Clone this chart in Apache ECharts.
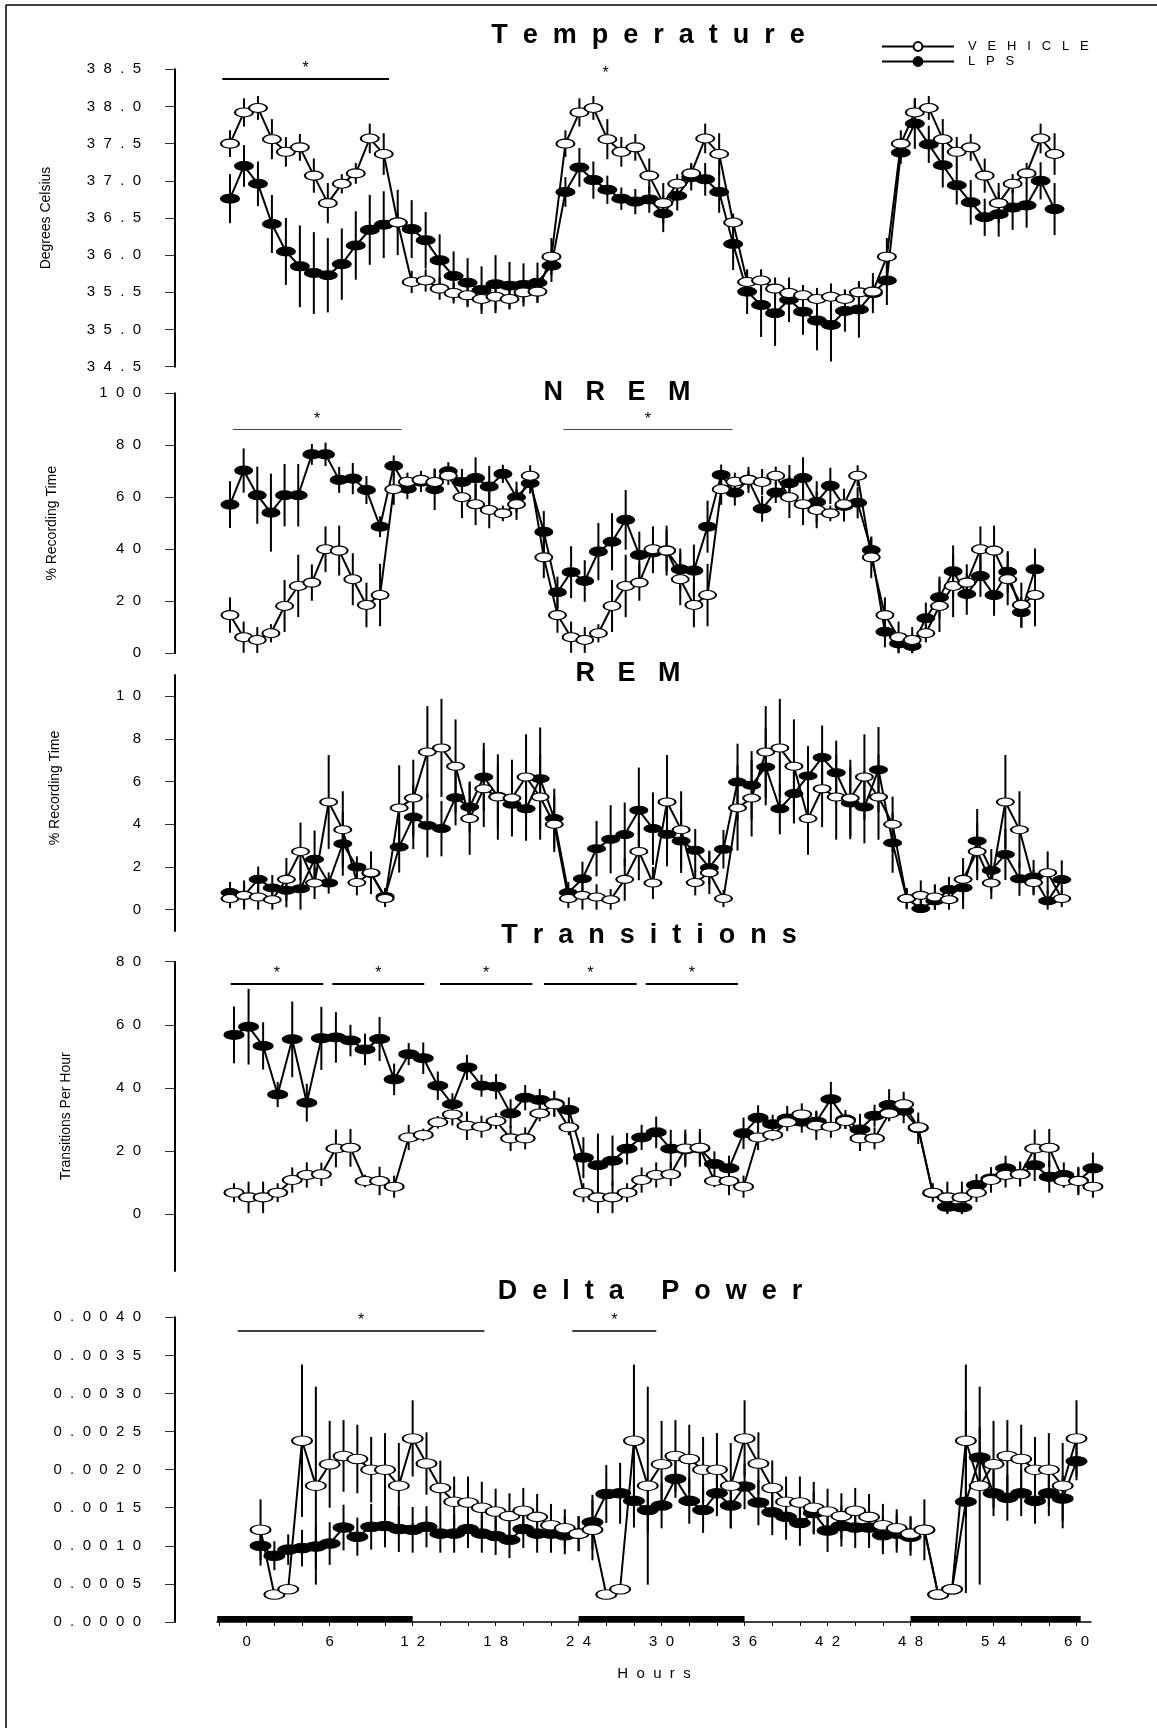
<!DOCTYPE html>
<html><head><meta charset="utf-8">
<script src="https://cdn.jsdelivr.net/npm/echarts@6/dist/echarts.min.js"></script>
<style>html,body{margin:0;padding:0;background:#fff}#c{width:1157px;height:1728px}</style>
</head><body><div id="c"></div>
<script>
const hours = [1,2,3,4,5,6,7,8,9,10,11,12,13,14,15,16,17,18,19,20,21,22,23,24,25,26,27,28,29,30,31,32,33,34,35,36,37,38,39,40,41,42,43,44,45,46,47,48,49,50,51,52,53,54,55,56,57,58,59,60];

// Temperature (deg C)
const tempVeh = [37.50,37.92,37.98,37.56,37.39,37.45,37.07,36.70,36.96,37.10,37.57,37.36,36.44,35.64,35.66,35.55,35.49,35.46,35.41,35.44,35.41,35.50,35.51,35.98,
37.50,37.92,37.98,37.56,37.39,37.45,37.07,36.70,36.96,37.10,37.57,37.36,36.44,35.64,35.66,35.55,35.49,35.46,35.41,35.44,35.41,35.50,35.51,35.98,
37.50,37.92,37.98,37.56,37.39,37.45,37.07,36.70,36.96,37.10,37.57,37.36];
const tempVehErr = [0.18,0.19,0.16,0.27,0.20,0.18,0.23,0.27,0.13,0.14,0.20,0.28,0.12,0.15,0.15,0.15,0.14,0.14,0.15,0.18,0.13,0.14,0.15,0.25,
0.18,0.19,0.16,0.27,0.20,0.18,0.23,0.27,0.13,0.14,0.20,0.28,0.12,0.15,0.15,0.15,0.14,0.14,0.15,0.18,0.13,0.14,0.15,0.25,
0.18,0.19,0.16,0.27,0.20,0.18,0.23,0.27,0.13,0.14,0.20,0.28];
const tempLps = [36.76,37.20,36.96,36.42,36.05,35.85,35.76,35.73,35.88,36.13,36.34,36.41,36.44,36.35,36.20,35.93,35.72,35.63,35.53,35.61,35.59,35.60,35.63,35.86,
36.85,37.18,37.01,36.88,36.76,36.72,36.75,36.56,36.80,37.05,37.02,36.85,36.15,35.51,35.33,35.22,35.40,35.24,35.12,35.06,35.25,35.27,35.49,35.66,
37.38,37.77,37.49,37.21,36.94,36.71,36.51,36.55,36.64,36.67,37.00,36.62];
const tempLpsErr = [0.33,0.28,0.30,0.39,0.45,0.55,0.55,0.50,0.48,0.46,0.47,0.45,0.44,0.39,0.38,0.35,0.33,0.33,0.32,0.39,0.32,0.29,0.27,0.22,
0.20,0.26,0.25,0.19,0.15,0.17,0.18,0.25,0.20,0.18,0.22,0.28,0.35,0.30,0.43,0.44,0.30,0.31,0.40,0.49,0.28,0.38,0.27,0.33,
0.15,0.34,0.25,0.30,0.26,0.30,0.25,0.30,0.30,0.30,0.25,0.35];

// NREM (% recording time)
const nremVeh = [14.7,6.2,5.1,7.7,18.2,25.9,27.2,40.0,39.5,28.5,18.6,22.4,63.1,66.0,66.7,65.9,68.3,60.0,57.3,55.1,53.8,57.3,68.3,36.9,
14.7,6.2,5.1,7.7,18.2,25.9,27.2,40.0,39.5,28.5,18.6,22.4,63.1,66.0,66.7,65.9,68.3,60.0,57.3,55.1,53.8,57.3,68.3,36.9,
14.7,6.2,5.1,7.7,18.2,25.9,27.2,40.0,39.5,28.5,18.6,22.4];
const nremVehErr = [6.8,6,5,3.5,10,12,7,8.8,9.6,10,8.6,12,6,3.5,3.5,5,3.5,8,8,7,3,6,4,8,
6.8,6,5,3.5,10,12,7,8.8,9.6,10,8.6,12,6,3.5,3.5,5,3.5,8,8,7,3,6,4,8,
6.8,6,5,3.5,10,12,7,8.8,9.6,10,8.6,12];
const nremLps = [57.2,70.3,60.8,54.1,60.8,60.8,76.5,76.5,66.7,67.2,62.8,48.7,72.1,63.3,66.0,63.1,70.0,65.9,67.4,64.1,69.0,60.0,65.4,46.7,
23.5,31.2,27.8,39.1,42.9,51.3,37.8,38.8,39.5,32.3,31.8,48.7,68.6,61.8,66.7,55.6,61.8,65.4,67.4,58.2,64.4,56.7,57.9,39.7,
8.3,3.8,2.8,13.5,21.5,31.5,22.8,29.7,22.4,31.3,15.8,32.3];
const nremLpsErr = [9,8.5,11,15,12,12,4,4.5,5,6,5.4,4,4,4,4,8,3.5,5,8,8,3.5,6,4,8,
6,10,8,11,11,11.5,9,8,8,8,10,10,4,5,5,5,4,7,8,8,7,6,6,5,
6,4,3,6,8,10,8,8,8,8,6,8];

// REM (% recording time)
const remVeh = [0.52,0.67,0.59,0.47,1.42,2.73,1.25,5.05,3.75,1.27,1.73,0.52,4.77,5.23,7.39,7.58,6.72,4.27,5.67,5.28,5.23,6.22,5.28,4.00,
0.52,0.67,0.59,0.47,1.42,2.73,1.25,5.05,3.75,1.27,1.73,0.52,4.77,5.23,7.39,7.58,6.72,4.27,5.67,5.28,5.23,6.22,5.28,4.00,
0.52,0.67,0.59,0.47,1.42,2.73,1.25,5.05,3.75,1.27,1.73,0.52];
const remVehErr = [0.45,0.7,0.6,0.5,1.0,1.35,0.75,2.2,1.8,0.6,1.0,0.4,2.0,1.8,2.15,2.3,2.2,1.7,1.8,2.0,1.8,2.0,2.0,1.3,
0.45,0.7,0.6,0.5,1.0,1.35,0.75,2.2,1.8,0.6,1.0,0.4,2.0,1.8,2.15,2.3,2.2,1.7,1.8,2.0,1.8,2.0,2.0,1.3,
0.45,0.7,0.6,0.5,1.0,1.35,0.75,2.2,1.8,0.6,1.0,0.4];
const remLps = [0.80,0.67,1.42,1.02,0.91,0.98,2.36,1.25,3.09,2.00,1.70,0.62,2.94,4.34,3.95,3.80,5.25,4.81,6.22,5.31,4.94,4.73,6.14,4.27,
0.80,1.45,2.86,3.30,3.52,4.66,3.80,3.53,3.22,2.78,1.97,2.83,5.98,5.83,6.69,4.73,5.44,6.27,7.13,6.42,5.00,4.81,6.56,3.13,
0.52,0.05,0.41,0.94,1.03,3.22,1.84,2.59,1.45,1.53,0.41,1.41];
const remLpsErr = [0.5,0.5,0.6,0.6,0.8,1.3,1.35,0.5,1.5,0.5,0.6,0.4,1.2,1.5,1.5,1.3,1.3,1.2,1.6,1.5,1.4,1.5,2.4,1.4,
0.5,0.8,1.3,1.6,1.5,2.0,1.7,1.5,1.5,1.0,0.8,0.9,1.8,1.6,1.8,1.2,1.4,1.4,1.5,1.5,1.7,1.7,2.0,1.4,
0.5,0.7,0.7,0.6,1.0,1.5,1.0,1.2,0.8,0.8,0.5,0.9];

// Transitions per hour
const transVeh = [6.8,5.3,5.3,6.8,10.8,12.4,12.6,20.8,21.0,10.5,10.5,8.7,24.3,25.1,29.1,31.6,28.0,27.7,29.5,24.0,24.0,31.9,34.8,27.5,
6.8,5.3,5.3,6.8,10.8,12.4,12.6,20.8,21.0,10.5,10.5,8.7,24.3,25.1,29.1,31.6,28.0,27.7,29.5,24.0,24.0,31.9,34.8,27.5,
6.8,5.3,5.3,6.8,10.8,12.4,12.6,20.8,21.0,10.5,10.5,8.7];
const transVehErr = [3,5,5,3,4,4,3.7,6,6,2,4.5,3.5,4,2,2,3.5,4.5,3.5,2.5,4,3.5,2.5,4,2.5,
3,5,5,3,4,4,3.7,6,6,2,4.5,3.5,4,2,2,3.5,4.5,3.5,2.5,4,3.5,2.5,4,2.5,
3,5,5,3,4,4,3.7,6,6,2,4.5,3.5];
const transLps = [56.8,59.4,53.3,37.9,55.4,35.3,55.7,56.0,55.0,52.2,55.5,42.7,50.7,49.4,40.7,34.8,46.5,40.7,40.4,31.9,36.9,36.2,35.1,33.0,
17.9,15.5,16.9,20.7,24.3,25.9,20.7,20.5,20.8,15.9,14.5,25.6,30.5,28.5,30.3,29.3,29.3,36.4,30.0,26.8,31.2,34.6,32.8,27.2,
6.6,2.3,2.1,9.2,11.3,14.5,12.7,15.5,11.8,12.4,10.6,14.5];
const transLpsErr = [9,12,7.5,4,12,6,10,8,5,5,7,5,3.5,5,4.5,3.5,4,3.5,4,4.5,4,3.5,4,4,
6.5,10,8,5,4,5,6,5,5,4,4,5,4,3,4,3.5,3.5,5.5,3,5,3.5,5,4,5,
2,3,3,3.5,3.5,4,4,5,5,4,4,5];

// Delta power
const deltaVeh = [0.00121,0.00036,0.00043,0.00238,0.00179,0.00207,0.00218,0.00214,0.00200,0.00200,0.00179,0.00241,0.00208,0.00176,0.00158,0.00157,0.00150,0.00145,0.00139,0.00146,0.00138,0.00127,0.00123,0.00116,
0.00121,0.00036,0.00043,0.00238,0.00179,0.00207,0.00218,0.00214,0.00200,0.00200,0.00179,0.00241,0.00208,0.00176,0.00158,0.00157,0.00150,0.00145,0.00139,0.00146,0.00138,0.00127,0.00123,0.00116,
0.00121,0.00036,0.00043,0.00238,0.00179,0.00207,0.00218,0.00214,0.00200,0.00200,0.00179,0.00241];
const deltaVehErr = [0.0004,0,0,0.001,0.0013,0.00057,0.00047,0.00045,0.00043,0.00048,0.00056,0.0005,0.00041,0.00036,0.00033,0.00034,0.00034,0.0003,0.0003,0.0003,0.0003,0.00028,0.00025,0.00023,
0.0004,0,0,0.001,0.0013,0.00057,0.00047,0.00045,0.00043,0.00048,0.00056,0.0005,0.00041,0.00036,0.00033,0.00034,0.00034,0.0003,0.0003,0.0003,0.0003,0.00028,0.00025,0.00023,
0.0004,0,0,0.001,0.0013,0.00057,0.00047,0.00045,0.00043,0.00048,0.00056,0.0005];
const deltaLps = [0.00100,0.00087,0.00095,0.00097,0.00099,0.00103,0.00124,0.00112,0.00125,0.00126,0.00122,0.00121,0.00125,0.00116,0.00116,0.00122,0.00116,0.00113,0.00108,0.00122,0.00116,0.00116,0.00114,0.00116,
0.00131,0.00168,0.00169,0.00159,0.00147,0.00153,0.00188,0.00159,0.00147,0.00169,0.00153,0.00178,0.00157,0.00144,0.00138,0.00130,0.00143,0.00120,0.00126,0.00124,0.00124,0.00114,0.00116,0.00112,
0.00121,0.00036,0.00043,0.00158,0.00216,0.00169,0.00163,0.00169,0.00159,0.00169,0.00162,0.00211];
const deltaLpsErr = [0.00026,0.00019,0.0002,0.00024,0.0003,0.00028,0.0003,0.00025,0.0003,0.00028,0.0003,0.0003,0.00027,0.00025,0.00025,0.00025,0.00025,0.00025,0.00024,0.00025,0.00025,0.00025,0.00025,0.00023,
0.00036,0.00038,0.0004,0.00035,0.0003,0.0003,0.00025,0.0003,0.0003,0.0003,0.0003,0.0003,0.0003,0.0003,0.0003,0.0003,0.00028,0.00028,0.00027,0.00027,0.00027,0.00025,0.00025,0.00025,
0,0,0,0.0012,0.0004,0.0003,0.0003,0.0003,0.0003,0.0003,0.0003,0.00025];

// significance bars: [startHour, endHour, yValue]
const tempSig = [[0.45, 12.38, 38.37]];
const tempStar = [[27.87, 38.44]];
const nremSig = [[1.20, 13.58, 86.15], [25.43, 37.83, 86.15]];
const transSig = [[0.77, 7.13, 73.1], [7.75, 14.07, 73.1], [15.15, 21.49, 73.1], [22.29, 28.66, 73.1], [29.28, 35.61, 73.1]];
const deltaSig = [[-0.65, 17.18, 0.003828], [23.54, 29.62, 0.003828]];
// light/dark bar (dark periods) in hours
const darkPeriods = [[-2.13, 12], [24, 36], [48, 60.3]];

const xTickValues = [-2,0,2,4,6,8,10,12,14,16,18,20,22,24,26,28,30,32,34,36,38,40,42,44,46,48,50,52,54,56,58,60];
const xLabelValues = [0,6,12,18,24,30,36,42,48,54,60];

const FONT = 'Liberation Sans, Arial, sans-serif';
const sp = (s, n) => String(s).split('').join(' '.repeat(n));

const chart = echarts.init(document.getElementById('c'), null, {renderer: 'canvas'});

const L = 217, W = 874;
const grids = [
  {left: L, width: W, top: 69.3, height: 297.4},
  {left: L, width: W, top: 393.3, height: 260},
  {left: L, width: W, top: 675, height: 256},
  {left: L, width: W, top: 961.7, height: 309.2},
  {left: L, width: W, top: 1317.3, height: 304.7}
];
const xRanges = [[0.070, 62.606], [0.047, 64.105], [0.078, 62.073], [-0.168, 59.868], [-2.148, 61.048]];

const xAxes = xRanges.map((r, i) => ({
  type: 'value', gridIndex: i, min: r[0], max: r[1], show: i === 4,
  axisLine: {show: true, onZero: false, lineStyle: {color: '#000', width: 1.5}},
  axisTick: {show: true, customValues: xTickValues, length: 4, lineStyle: {color: '#000', width: 1}},
  axisLabel: {show: true, customValues: xLabelValues, formatter: v => sp(v, 2), margin: 12, color: '#000', fontSize: 15, fontFamily: FONT},
  splitLine: {show: false},
  name: i === 4 ? sp('Hours', 2) : '', nameLocation: 'middle', nameGap: 44,
  nameTextStyle: {color: '#000', fontSize: 15, fontFamily: FONT}
}));

const yBase = {
  type: 'value', offset: 42,
  axisLine: {show: true, onZero: false, lineStyle: {color: '#000', width: 2}},
  axisTick: {show: true, length: 10, lineStyle: {color: '#333', width: 1}},
  splitLine: {show: false},
  nameLocation: 'middle', nameRotate: 90,
  nameTextStyle: {color: '#000', fontSize: 14, fontFamily: FONT}
};
const lab = f => ({show: true, formatter: f, margin: 34, color: '#000', fontSize: 15, fontFamily: FONT});
const yAxes = [
  Object.assign({}, yBase, {gridIndex: 0, min: 34.5, max: 38.5, interval: 0.5, axisLabel: lab(v => sp(v.toFixed(1), 2)), name: 'Degrees Celsius', nameGap: 122}),
  Object.assign({}, yBase, {gridIndex: 1, min: 0, max: 100, interval: 20, axisLabel: lab(v => sp(v, 2)), name: '% Recording Time', nameGap: 116}),
  Object.assign({}, yBase, {gridIndex: 2, min: -1, max: 11,
    axisTick: Object.assign({}, yBase.axisTick, {customValues: [0,2,4,6,8,10]}),
    axisLabel: Object.assign(lab(v => sp(v, 2)), {customValues: [0,2,4,6,8,10]}), name: '% Recording Time', nameGap: 113,
    nameTextStyle: Object.assign({}, yBase.nameTextStyle, {padding: [0, 0, 0, 30]})}),
  Object.assign({}, yBase, {gridIndex: 3, min: -18, max: 80,
    axisTick: Object.assign({}, yBase.axisTick, {customValues: [0,20,40,60,80]}),
    axisLabel: Object.assign(lab(v => sp(v, 2)), {customValues: [0,20,40,60,80]}), name: 'Transitions Per Hour', nameGap: 102}),
  Object.assign({}, yBase, {gridIndex: 4, min: 0, max: 0.004, interval: 0.0005, axisLabel: lab(v => sp(v.toFixed(4), 2)), name: ''})
];

function errSeries(idx, mean, err, clampZero) {
  return {
    type: 'custom', xAxisIndex: idx, yAxisIndex: idx, z: 1, silent: true, clip: false,
    data: hours.map((h, i) => [h, clampZero ? Math.max(0, mean[i] - err[i]) : mean[i] - err[i], mean[i] + err[i]]),
    encode: {x: 0, y: [1, 2]},
    renderItem: function (params, api) {
      if (api.value(2) === api.value(1)) return null;
      const a = api.coord([api.value(0), api.value(1)]);
      const b = api.coord([api.value(0), api.value(2)]);
      return {type: 'line', shape: {x1: a[0], y1: a[1], x2: b[0], y2: b[1]}, style: {stroke: '#000', lineWidth: 2}};
    }
  };
}
function lineSeries(idx, name, vals, filled, size, extra) {
  return Object.assign({
    type: 'line', name: name, xAxisIndex: idx, yAxisIndex: idx, z: filled ? 2 : 3, clip: false,
    data: hours.map((h, i) => [h, vals[i]]),
    symbol: 'circle', symbolSize: size, showAllSymbol: true, silent: true,
    lineStyle: {color: '#000', width: 2},
    itemStyle: {color: filled ? '#000' : '#fff', borderColor: '#000', borderWidth: 1.5}
  }, extra || {});
}
function sigMark(list, width, color) {
  return {
    silent: true, symbol: ['none', 'none'], animation: false,
    lineStyle: {color: color, width: width, type: 'solid'},
    label: {show: true, position: 'middle', formatter: '*', color: '#000', fontSize: 16, fontFamily: FONT, distance: 2},
    data: list.map(s => [{coord: [s[0], s[2]]}, {coord: [s[1], s[2]]}])
  };
}

const series = [
  errSeries(0, tempLps, tempLpsErr, false), errSeries(0, tempVeh, tempVehErr, false),
  lineSeries(0, 'LPS', tempLps, true, [18, 9]),
  lineSeries(0, 'VEHICLE', tempVeh, false, [18, 9], {
    markLine: sigMark(tempSig, 2, '#000'),
    markPoint: {silent: true, symbol: 'rect', symbolSize: 1, itemStyle: {color: 'rgba(0,0,0,0)'},
      label: {show: true, position: 'inside', formatter: '*', color: '#000', fontSize: 16, fontFamily: FONT},
      data: tempStar.map(s => ({coord: s}))}
  }),
  errSeries(1, nremLps, nremLpsErr, true), errSeries(1, nremVeh, nremVehErr, true),
  lineSeries(1, 'LPS', nremLps, true, [17, 9]),
  lineSeries(1, 'VEHICLE', nremVeh, false, [17, 9], {markLine: sigMark(nremSig, 1, '#444')}),
  errSeries(2, remLps, remLpsErr, true), errSeries(2, remVeh, remVehErr, true),
  lineSeries(2, 'LPS', remLps, true, [17, 8]),
  lineSeries(2, 'VEHICLE', remVeh, false, [17, 8]),
  errSeries(3, transLps, transLpsErr, true), errSeries(3, transVeh, transVehErr, true),
  lineSeries(3, 'LPS', transLps, true, [19, 9]),
  lineSeries(3, 'VEHICLE', transVeh, false, [19, 9], {markLine: sigMark(transSig, 2, '#000')}),
  errSeries(4, deltaLps, deltaLpsErr, true), errSeries(4, deltaVeh, deltaVehErr, true),
  lineSeries(4, 'LPS', deltaLps, true, [20, 9.5], {
    markArea: {silent: true, itemStyle: {color: '#000'},
      data: darkPeriods.map(p => [{coord: [p[0], 0]}, {coord: [p[1], 0.00008]}])}
  }),
  lineSeries(4, 'VEHICLE', deltaVeh, false, [20, 9.5], {markLine: sigMark(deltaSig, 1.5, '#000')})
];

const titleStyle = (t, x, y) => ({type: 'text', x: x, y: y, silent: true,
  style: {text: t, font: 'bold 27px ' + FONT, fill: '#000', align: 'center', verticalAlign: 'middle', textAlign: 'center', textVerticalAlign: 'middle'}});

chart.setOption({
  animation: false,
  backgroundColor: '#fff',
  textStyle: {fontFamily: FONT},
  grid: grids,
  xAxis: xAxes,
  yAxis: yAxes,
  legend: {
    data: ['VEHICLE', 'LPS'], orient: 'vertical', left: 881, top: 39, padding: 0,
    itemWidth: 72, itemHeight: 11, itemGap: 0, selectedMode: false,
    formatter: n => sp(n, 3),
    textStyle: {color: '#000', fontSize: 13, fontFamily: FONT, lineHeight: 15, padding: [0, 0, 0, 9]}
  },
  graphic: [
    titleStyle(sp('Temperature', 2), 648, 36),
    titleStyle(sp('NREM', 3), 617, 393),
    titleStyle(sp('REM', 3), 628, 674),
    titleStyle(sp('Transitions', 2), 649, 936),
    titleStyle('D  e  l  t  a     P  o  w  e  r', 650, 1292),
    {type: 'line', silent: true, shape: {x1: 6, y1: 5, x2: 6, y2: 1728}, style: {stroke: '#000', lineWidth: 1.5}},
    {type: 'line', silent: true, shape: {x1: 6, y1: 5, x2: 1157, y2: 5}, style: {stroke: '#000', lineWidth: 1.5}}
  ],
  series: series
});
</script></body></html>
